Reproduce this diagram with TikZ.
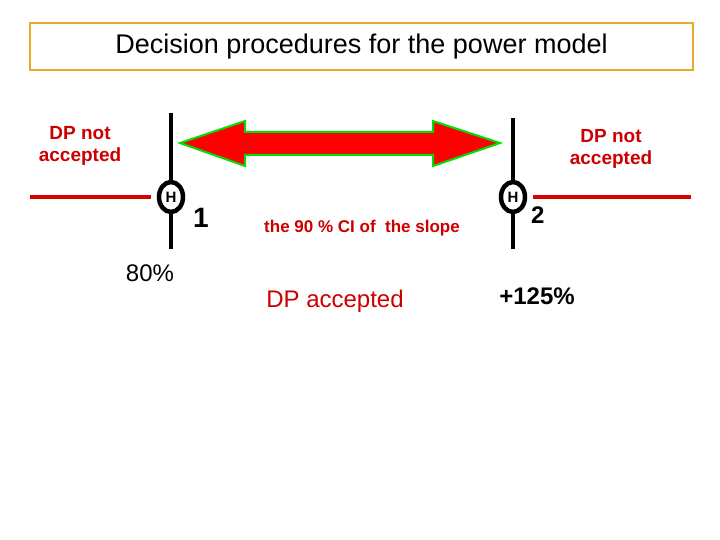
\documentclass[tikz,border=0pt]{standalone}
\usepackage{fontspec}
\setmainfont{Liberation Sans}
\usetikzlibrary{positioning,shapes.geometric}
\definecolor{dpred}{RGB}{204,0,0}
\definecolor{boxorange}{RGB}{230,170,40}
\begin{document}
\begin{tikzpicture}[x=1pt,y=-1pt,
    label/.style={text=dpred, font=\fontsize{19}{22}\selectfont\bfseries, align=center, inner sep=0pt},
    limit/.style={line width=4pt, black},
    reject/.style={line width=4pt, dpred!80!red},
    thetanode/.style={draw, ellipse, line width=4.5pt, minimum width=24pt, minimum height=30pt, inner sep=0pt,
      font=\fontsize{15}{15}\selectfont\bfseries},
    ]
    \useasboundingbox (0,0) rectangle (720,540);
    \node[draw=boxorange, line width=1.5pt, minimum width=663pt, minimum height=47pt,
      font=\fontsize{27}{28}\selectfont] (title) at (361.5,46.5) {Decision procedures for the power model};

    \node[label] (notleft) at (80,146) {DP not\\accepted};
    \node[label] (notright) at (611,149) {DP not\\accepted};

    % limits
    \node[thetanode] (theta1) at (171,197) {H};
    \node[thetanode] (theta2) at (513,197) {H};
    \node[font=\fontsize{28}{28}\selectfont\bfseries, inner sep=0pt, anchor=south west] (sub1) at (193,228) {1};
    \node[font=\fontsize{24}{24}\selectfont\bfseries, inner sep=0pt, anchor=south west] (sub2) at (531,224) {2};
    \coordinate (top1) at (171,113);
    \coordinate (bot1) at (171,249);
    \coordinate (top2) at (513,118);
    \coordinate (bot2) at (513,249);
    \draw[limit] (top1) -- (theta1.north);
    \draw[limit] (theta1.south) -- (bot1);
    \draw[limit] (top2) -- (theta2.north);
    \draw[limit] (theta2.south) -- (bot2);

    \coordinate (redl) at (30,197);
    \coordinate (redr) at (691,197);
    \draw[reject] (redl) -- ([xshift=-6pt]theta1.west);
    \draw[reject] ([xshift=6pt]theta2.east) -- (redr);

    % confidence interval arrow
    \draw[fill=red, draw=green!80!black!60!green, line width=2pt]
      (180,143) -- (245,121) -- (245,132) -- (433,132) -- (433,121) -- (500,143)
      -- (433,166) -- (433,155) -- (245,155) -- (245,166) -- cycle;

    \node[text=dpred, font=\fontsize{17}{18}\selectfont\bfseries] (ci) at (362,228) {the 90 \% CI of \ the slope};
    \node[font=\fontsize{24}{24}\selectfont] (lo) at (150,273) {80\%};
    \node[text=dpred, font=\fontsize{24}{24}\selectfont] (acc) at (335,301) {DP accepted};
    \node[font=\fontsize{24}{24}\selectfont\bfseries] (hi) at (537,296) {+125\%};
\end{tikzpicture}
\end{document}
